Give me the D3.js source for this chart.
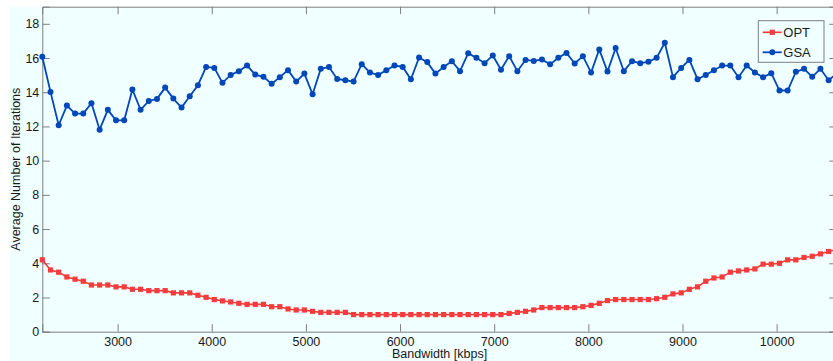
<!DOCTYPE html>
<html>
<head>
<meta charset="utf-8">
<script src="https://cdn.jsdelivr.net/npm/d3@7"></script>
<style>
  html, body { margin: 0; padding: 0; background: #ffffff; }
  svg { display: block; }
  text { font-family: "Liberation Sans", Arial, Helvetica, sans-serif; }
</style>
</head>
<body>
<svg id="chart" width="833" height="361"></svg>
<script>
// Bandwidth sampling points (kbps)
const bandwidth = [
  2200, 2287, 2374, 2461, 2548, 2635, 2722, 2809, 2896, 2983,
  3070, 3157, 3244, 3331, 3418, 3505, 3592, 3679, 3766, 3853,
  3940, 4027, 4114, 4201, 4288, 4375, 4462, 4549, 4636, 4723,
  4810, 4897, 4984, 5071, 5158, 5245, 5332, 5419, 5506, 5593,
  5680, 5767, 5854, 5941, 6028, 6115, 6202, 6289, 6376, 6463,
  6550, 6637, 6724, 6811, 6898, 6985, 7072, 7159, 7246, 7333,
  7420, 7507, 7594, 7681, 7768, 7855, 7942, 8029, 8116, 8203,
  8290, 8377, 8464, 8551, 8638, 8725, 8812, 8899, 8986, 9073,
  9160, 9247, 9334, 9421, 9508, 9595, 9682, 9769, 9856, 9943,
  10030, 10117, 10204, 10291, 10378, 10465, 10552, 10639
];

// Average number of iterations, optimal algorithm
const optValues = [
  4.20, 3.61, 3.48, 3.20, 3.07, 2.95, 2.73, 2.73, 2.73, 2.62,
  2.62, 2.48, 2.48, 2.40, 2.40, 2.40, 2.27, 2.27, 2.27, 2.13,
  2.01, 1.88, 1.80, 1.74, 1.66, 1.60, 1.60, 1.60, 1.46, 1.46,
  1.33, 1.27, 1.27, 1.19, 1.13, 1.13, 1.13, 1.13, 1.00, 1.00,
  1.00, 1.00, 1.00, 1.00, 1.00, 1.00, 1.00, 1.00, 1.00, 1.00,
  1.00, 1.00, 1.00, 1.00, 1.00, 1.00, 1.00, 1.07, 1.13, 1.19,
  1.27, 1.41, 1.41, 1.41, 1.41, 1.41, 1.46, 1.54, 1.66, 1.82,
  1.88, 1.88, 1.88, 1.88, 1.88, 1.93, 2.01, 2.21, 2.27, 2.48,
  2.62, 2.95, 3.14, 3.20, 3.48, 3.55, 3.61, 3.67, 3.95, 3.95,
  4.00, 4.20, 4.20, 4.34, 4.41, 4.55, 4.69, 4.80
];

// Average number of iterations, GSA
const gsaValues = [
  16.07, 14.02, 12.07, 13.22, 12.75, 12.75, 13.36, 11.81, 12.97, 12.36,
  12.36, 14.16, 12.97, 13.49, 13.61, 14.27, 13.63, 13.10, 13.77, 14.41,
  15.48, 15.42, 14.55, 15.01, 15.23, 15.56, 15.03, 14.90, 14.49, 14.88,
  15.29, 14.62, 15.09, 13.88, 15.37, 15.48, 14.78, 14.70, 14.62, 15.64,
  15.15, 15.01, 15.29, 15.56, 15.48, 14.76, 16.03, 15.76, 15.09, 15.48,
  15.81, 15.23, 16.28, 16.01, 15.70, 16.15, 15.31, 16.11, 15.23, 15.89,
  15.83, 15.91, 15.63, 16.01, 16.30, 15.68, 16.11, 15.15, 16.50, 15.21,
  16.58, 15.23, 15.81, 15.70, 15.78, 16.01, 16.89, 14.88, 15.42, 15.89,
  14.76, 15.01, 15.29, 15.56, 15.56, 14.88, 15.56, 15.15, 14.88, 15.11,
  14.10, 14.10, 15.19, 15.37, 14.90, 15.37, 14.70, 15.10
];

const xTicks = [3000, 4000, 5000, 6000, 7000, 8000, 9000, 10000];
const yTicks = [0, 2, 4, 6, 8, 10, 12, 14, 16, 18];
const seriesNames = ["OPT", "GSA"];

const colors = { OPT: "#f53b3b", GSA: "#0047b9" };
const bg = "#f0ffff";
const axisColor = "#7f7f7f";
const textColor = "#1a1a1a";

const svg = d3.select("#chart");

// Figure background panel
svg.append("rect")
  .attr("x", 10).attr("y", 6.7)
  .attr("width", 823).attr("height", 361 - 6.7)
  .attr("fill", bg);

const plot = { left: 42.3, top: 6.7, right: 836.8, bottom: 331.7 };

const x = d3.scaleLinear()
  .domain([bandwidth[0], bandwidth[bandwidth.length - 1]])
  .range([plot.left, plot.right]);
const y = d3.scaleLinear().domain([0, 19]).range([plot.bottom, plot.top]);

const tickLen = 7.5;

// Axes: labelled bottom/left, mirrored ticks on top/right (box style)
const bottomAxis = svg.append("g")
  .attr("transform", `translate(0,${plot.bottom})`)
  .call(d3.axisBottom(x).tickValues(xTicks).tickSize(-tickLen).tickPadding(5).tickFormat(d3.format("d")));
const leftAxis = svg.append("g")
  .attr("transform", `translate(${plot.left},0)`)
  .call(d3.axisLeft(y).tickValues(yTicks).tickSize(-tickLen).tickPadding(3).tickFormat(d3.format("d")));
const topAxis = svg.append("g")
  .attr("transform", `translate(0,${plot.top})`)
  .call(d3.axisTop(x).tickValues(xTicks).tickSize(-tickLen).tickFormat(""));
const rightAxis = svg.append("g")
  .attr("transform", `translate(${plot.right},0)`)
  .call(d3.axisRight(y).tickValues(yTicks).tickSize(-tickLen).tickFormat(""));

[bottomAxis, leftAxis, topAxis, rightAxis].forEach(g => {
  g.select(".domain").attr("stroke", axisColor).attr("stroke-width", 1);
  g.selectAll(".tick line").attr("stroke", axisColor).attr("stroke-width", 1);
  g.selectAll(".tick text")
    .attr("fill", textColor)
    .style("font-size", "12.5px")
    .style("font-family", "'Liberation Sans', Arial, Helvetica, sans-serif");
});

// Axis titles
svg.append("text")
  .attr("x", (plot.left + plot.right) / 2)
  .attr("y", 358)
  .attr("text-anchor", "middle")
  .attr("fill", textColor)
  .style("font-size", "12.5px")
  .text("Bandwidth [kbps]");

svg.append("text")
  .attr("transform", `translate(19.5,${(plot.top + plot.bottom) / 2}) rotate(-90)`)
  .attr("text-anchor", "middle")
  .attr("fill", textColor)
  .style("font-size", "12.5px")
  .text("Average Number of Iterations");

// Series
const line = d3.line()
  .x((d, i) => x(bandwidth[i]))
  .y(d => y(d));

const marks = svg.append("g");

// OPT: red line with square markers
marks.append("path")
  .datum(optValues)
  .attr("d", line)
  .attr("fill", "none")
  .attr("stroke", colors.OPT)
  .attr("stroke-width", 1.6);
const sq = 5.2;
marks.append("g").selectAll("rect")
  .data(optValues)
  .join("rect")
  .attr("x", (d, i) => x(bandwidth[i]) - sq / 2)
  .attr("y", d => y(d) - sq / 2)
  .attr("width", sq).attr("height", sq)
  .attr("fill", colors.OPT);

// GSA: blue line with circle markers
marks.append("path")
  .datum(gsaValues)
  .attr("d", line)
  .attr("fill", "none")
  .attr("stroke", colors.GSA)
  .attr("stroke-width", 1.8);
marks.append("g").selectAll("circle")
  .data(gsaValues)
  .join("circle")
  .attr("cx", (d, i) => x(bandwidth[i]))
  .attr("cy", d => y(d))
  .attr("r", 3)
  .attr("fill", colors.GSA);

// Legend
const legend = svg.append("g").attr("transform", "translate(758.3,20.7)");
legend.append("rect")
  .attr("width", 65.7).attr("height", 41.6)
  .attr("fill", bg)
  .attr("stroke", axisColor)
  .attr("stroke-width", 1);
seriesNames.forEach((name, i) => {
  const cy = 11.6 + i * 20;
  const row = legend.append("g").attr("transform", `translate(0,${cy})`);
  row.append("line")
    .attr("x1", 4.4).attr("x2", 23.4)
    .attr("y1", 0).attr("y2", 0)
    .attr("stroke", colors[name])
    .attr("stroke-width", name === "GSA" ? 1.8 : 1.6);
  if (name === "OPT") {
    row.append("rect")
      .attr("x", 14 - sq / 2).attr("y", -sq / 2)
      .attr("width", sq).attr("height", sq)
      .attr("fill", colors[name]);
  } else {
    row.append("circle").attr("cx", 14).attr("cy", 0).attr("r", 3).attr("fill", colors[name]);
  }
  row.append("text")
    .attr("x", 25)
    .attr("y", 4.6)
    .attr("fill", textColor)
    .style("font-size", "13px")
    .text(name);
});
</script>
</body>
</html>
